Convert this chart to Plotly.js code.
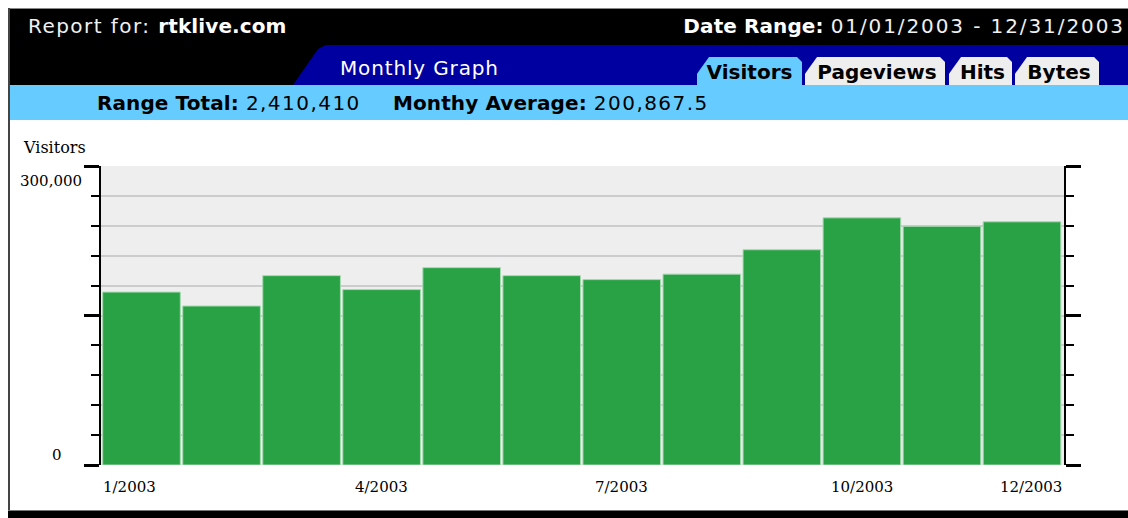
<!DOCTYPE html>
<html>
<head>
<meta charset="utf-8">
<script src="https://cdn.plot.ly/plotly-3.0.1.min.js"></script>
<style>
  html, body { margin:0; padding:0; width:1128px; height:518px; overflow:hidden; background:#fff; }
  #chart { position:absolute; left:0; top:0; width:1128px; height:518px; }
  .hd { position:absolute; font-family:"DejaVu Sans", Verdana, sans-serif; font-size:20px; white-space:nowrap; z-index:5; }
  .n { letter-spacing:1.45px; }
  .b { font-weight:bold; letter-spacing:0.1px; }
  .tab { position:absolute; top:57px; height:28px; z-index:4; font-family:"DejaVu Sans", sans-serif; font-weight:bold; font-size:20px; line-height:30px; color:#000; text-align:center;
         clip-path: polygon(0 100%, 0 60%, 12px 0, calc(100% - 5px) 0, 100% 5px, 100% 100%); }
</style>
</head>
<body>
<div id="chart"></div>

<!-- frame -->
<div style="position:absolute;left:0;top:0;width:1128px;height:8px;background:#fff;z-index:3;"></div>
<div style="position:absolute;left:8px;top:8px;width:1120px;height:1px;background:#888;z-index:3;"></div>
<div style="position:absolute;left:8px;top:9px;width:1120px;height:76px;background:#000;z-index:3;"></div>
<div style="position:absolute;left:8px;top:8px;width:2px;height:504px;background:#444;z-index:6;"></div>
<div style="position:absolute;left:8px;top:511px;width:1120px;height:7px;background:#000;z-index:6;"></div>
<div style="position:absolute;left:8px;top:510px;width:1120px;height:1px;background:#777;z-index:6;"></div>

<!-- blue band with slanted left -->
<div style="position:absolute;left:0;top:45px;width:1128px;height:40px;background:#0000a0;z-index:3;
            clip-path: polygon(293px 40px, 318px 4px, 326px 0, 1128px 0, 1128px 40px);"></div>
<!-- light blue band -->
<div style="position:absolute;left:10px;top:85px;width:1118px;height:35px;background:#66ccff;z-index:3;"></div>

<div class="hd" style="left:28px;top:14px;color:#f0f0f0;"><span class="n">Report for: </span><span class="b" style="color:#fff;">rtklive.com</span></div>
<div class="hd" style="right:5px;top:14px;color:#f0f0f0;"><span class="b" style="color:#fff;">Date Range: </span><span class="n" style="letter-spacing:1.9px;">01/01/2003 - 12/31/200</span>3</div>
<div class="hd" style="left:340px;top:56px;color:#fff;letter-spacing:0.85px;">Monthly Graph</div>

<div class="tab" style="left:697px;width:105px;background:#66ccff;">Visitors</div>
<div class="tab" style="left:805px;width:140px;background:#eeeeee;padding-left:4px;box-sizing:border-box;">Pageviews</div>
<div class="tab" style="left:949px;width:63px;background:#eeeeee;padding-left:4px;box-sizing:border-box;">Hits</div>
<div class="tab" style="left:1015px;width:84px;background:#eeeeee;padding-left:4px;box-sizing:border-box;">Bytes</div>

<div class="hd" style="left:97px;top:91px;color:#000;"><span class="b">Range Total: </span><span class="n">2,410,410</span></div>
<div class="hd" style="left:393px;top:91px;color:#000;"><span class="b">Monthy Average: </span><span class="n">200,867.5</span></div>

<script>
const months = ['1/2003','2/2003','3/2003','4/2003','5/2003','6/2003','7/2003','8/2003','9/2003','10/2003','11/2003','12/2003'];
const visitors = [173500, 159500, 190000, 176000, 198000, 190000, 186000, 191500, 216000, 248000, 239500, 244000];
const xTickLabels = ['1/2003','4/2003','7/2003','10/2003','12/2003'];
const yTickVals = [0, 150000, 300000];
const yLabelTop = '300,000';
const yLabelBottom = '0';
const yTitle = 'Visitors';

const serif = '"DejaVu Serif", "Liberation Serif", serif';

const axisCommon = {
  range: [0, 300000],
  tickmode: 'array',
  tickvals: yTickVals,
  ticks: 'outside',
  ticklen: 15,
  tickwidth: 3,
  tickcolor: '#000',
  showline: true,
  linewidth: 2,
  linecolor: '#000',
  zeroline: false,
  showticklabels: false,
  fixedrange: true
};

const traces = [
  {
    type: 'bar',
    x: months,
    y: visitors,
    marker: { color: '#28a244', line: { color: '#a8d8b2', width: 1 } },
    hoverinfo: 'x+y'
  },
  {
    type: 'scatter',
    mode: 'none',
    x: months,
    y: visitors,
    yaxis: 'y2',
    hoverinfo: 'skip',
    showlegend: false
  }
];

// first and last labels are nudged inward/outward as in the original
function labelShift(label, i, arr) {
  if (i === 0) return -12;
  if (i === arr.length - 1) return 9;
  return 0;
}

const xLabelAnnotations = xTickLabels.map((lab, i, arr) => ({
  text: lab, xref: 'x', yref: 'paper', x: lab, y: 0,
  xanchor: 'center', yanchor: 'middle', xshift: labelShift(lab, i, arr), yshift: -22,
  showarrow: false, font: { family: serif, size: 15, color: '#000' }
}));

const layout = {
  width: 1128,
  height: 518,
  margin: { l: 101, r: 64, t: 166, b: 53 },
  paper_bgcolor: '#ffffff',
  plot_bgcolor: '#eeeeee',
  showlegend: false,
  bargap: 0.03,
  xaxis: {
    type: 'category',
    categoryarray: months,
    showticklabels: false,
    ticks: '',
    showgrid: false,
    showline: false,
    zeroline: false,
    fixedrange: true
  },
  yaxis: Object.assign({}, axisCommon, {
    side: 'left',
    showgrid: true,
    gridcolor: '#cccccc',
    gridwidth: 2,
    minor: { tickmode: 'linear', tick0: 0, dtick: 30000, ticks: 'outside', ticklen: 8, tickwidth: 2, tickcolor: '#000',
             showgrid: true, gridcolor: '#cccccc', gridwidth: 2 }
  }),
  yaxis2: Object.assign({}, axisCommon, {
    overlaying: 'y',
    side: 'right',
    showgrid: false,
    minor: { tickmode: 'linear', tick0: 0, dtick: 30000, ticks: 'outside', ticklen: 8, tickwidth: 2, tickcolor: '#000', showgrid: false }
  }),
  annotations: [
    { text: yTitle, xref: 'paper', yref: 'paper', x: 0, y: 1, xanchor: 'left', yanchor: 'middle', xshift: -80, yshift: 19,
      showarrow: false, font: { family: serif, size: 16, color: '#000' } },
    { text: yLabelTop, xref: 'paper', yref: 'y', x: 0, y: 300000, xanchor: 'right', yanchor: 'middle', xshift: -17, yshift: -15,
      showarrow: false, font: { family: serif, size: 15, color: '#000' } },
    { text: yLabelBottom, xref: 'paper', yref: 'y', x: 0, y: 0, xanchor: 'right', yanchor: 'middle', xshift: -37, yshift: 10,
      showarrow: false, font: { family: serif, size: 15, color: '#000' } }
  ].concat(xLabelAnnotations)
};

Plotly.newPlot('chart', traces, layout, { displayModeBar: false, staticPlot: true });
</script>
</body>
</html>
